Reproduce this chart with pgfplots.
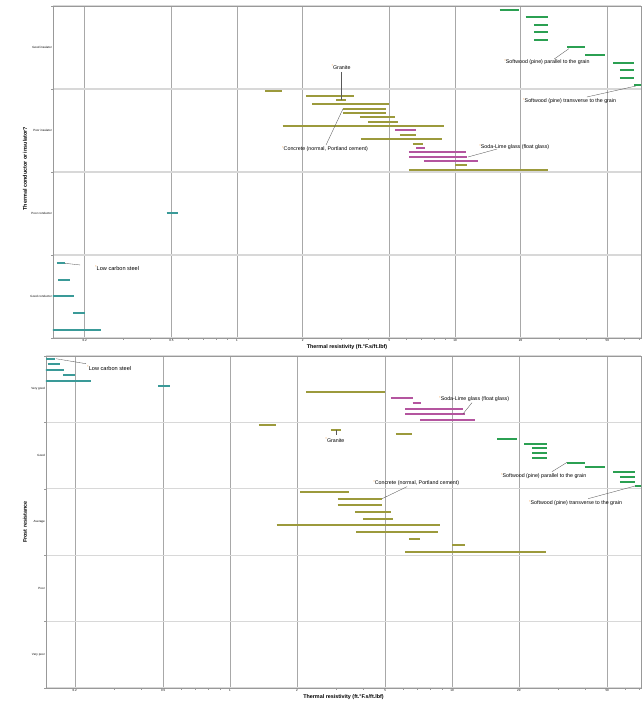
\documentclass[border=0pt]{standalone}
\usepackage{pgfplots}
\pgfplotsset{compat=1.18}
\usepackage{fontspec}
\setmainfont{Liberation Sans}
\definecolor{cteal}{HTML}{3A9A98}
\definecolor{colive}{HTML}{9C9A3C}
\definecolor{cpink}{HTML}{B4559F}
\definecolor{cgreen}{HTML}{2BA052}
\definecolor{corange}{HTML}{F5A04A}
\definecolor{cgrid}{HTML}{A8A8A8}
\definecolor{cband}{HTML}{D8D8D8}
\newcommand\tickfont{\fontsize{3}{3.5}\selectfont}
\newcommand\annfont{\fontsize{5.3}{6}\selectfont}
\newcommand\labfont{\fontsize{5.4}{6.4}\selectfont\bfseries}
\newcommand\orangemark{\raisebox{0.55ex}{\textcolor{corange}{\fontsize{4}{4}\selectfont*}}}
\tikzset{
  leader/.style={draw=gray!70!black, line width=0.35pt},
  annot/.style={font=\annfont, anchor=west, inner sep=0pt},
  hbar/.style={line width=2pt, line cap=butt},
}
\begin{document}
\begin{tikzpicture}
\path[use as bounding box] (0,0) rectangle (641pt,702pt);
% ---------------- top panel ----------------
\begin{axis}[
  scale only axis, xmode=log,
  at={(53pt,364pt)}, anchor=south west, width=588pt, height=332pt,
  xmin=0.1432, xmax=71.3, ymin=0, ymax=4,
  axis line style={draw=gray!80, line width=0.6pt},
  xtick={0.2,0.5,1,2,5,10,20,50},
  xticklabels={0.2,0.5,1,2,5,10,20,50},
  minor xtick={0.3,0.4,0.6,0.7,0.8,0.9,3,4,6,7,8,9,30,40,60,70},
  xtick pos=left, ytick pos=left, tick align=outside,
  major tick length=0pt, minor tick length=1.8pt,
  tick style={draw=gray!80, line width=0.4pt},
  xmajorgrids, yminorgrids,
  major grid style={draw=cgrid, line width=0.6pt},
  minor grid style={draw=cband, line width=1.3pt},
  xticklabel style={font=\tickfont, inner sep=1pt},
  yticklabel style={font=\tickfont, inner sep=1pt},
  ytick={0.5,1.5,2.5,3.5},
  yticklabels={Good conductor,Poor conductor,Poor insulator,Good insulator},
  minor ytick={0,1,2,3,4},
  xlabel={Thermal resistivity (ft.°F.s/ft.lbf)},
  ylabel={Thermal conductor or insulator?},
  xlabel style={font=\labfont, at={(axis description cs:0.5,-0.027)}, anchor=center},
  ylabel style={font=\labfont, at={(axis description cs:-0.0476,0.51)}, anchor=center},
]
% metals
\addplot[hbar, cteal] coordinates {(0.149,0.9) (0.163,0.9)};
\addplot[hbar, cteal] coordinates {(0.151,0.7) (0.171,0.7)};
\addplot[hbar, cteal] coordinates {(0.14,0.5) (0.178,0.5)};
\addplot[hbar, cteal] coordinates {(0.177,0.3) (0.201,0.3)};
\addplot[hbar, cteal] coordinates {(0.14,0.1) (0.237,0.1)};
\addplot[hbar, cteal] coordinates {(0.475,1.5) (0.537,1.5)};
% poor insulators
\addplot[hbar, colive] coordinates {(1.35,2.97368) (1.61,2.97368)};
\addplot[hbar, colive] coordinates {(2.07,2.92105) (3.45,2.92105)};
\addplot[hbar, colive] coordinates {(2.85,2.86842) (3.17,2.86842)};
\addplot[hbar, colive] coordinates {(2.21,2.81579) (5.0,2.81579)};
\addplot[hbar, colive] coordinates {(3.05,2.76316) (4.84,2.76316)};
\addplot[hbar, colive] coordinates {(3.05,2.71053) (4.84,2.71053)};
\addplot[hbar, colive] coordinates {(3.66,2.65789) (5.33,2.65789)};
\addplot[hbar, colive] coordinates {(3.98,2.60526) (5.45,2.60526)};
\addplot[hbar, colive] coordinates {(1.62,2.55263) (8.87,2.55263)};
\addplot[hbar, cpink] coordinates {(5.31,2.5) (6.65,2.5)};
\addplot[hbar, colive] coordinates {(5.59,2.44737) (6.61,2.44737)};
\addplot[hbar, colive] coordinates {(3.7,2.39474) (8.68,2.39474)};
\addplot[hbar, colive] coordinates {(6.41,2.34211) (7.15,2.34211)};
\addplot[hbar, cpink] coordinates {(6.64,2.28947) (7.27,2.28947)};
\addplot[hbar, cpink] coordinates {(6.15,2.23684) (11.2,2.23684)};
\addplot[hbar, cpink] coordinates {(6.15,2.18421) (11.4,2.18421)};
\addplot[hbar, cpink] coordinates {(7.2,2.13158) (12.75,2.13158)};
\addplot[hbar, colive] coordinates {(10.0,2.07895) (11.4,2.07895)};
\addplot[hbar, colive] coordinates {(6.15,2.02632) (26.6,2.02632)};
% good insulators
\addplot[hbar, cgreen] coordinates {(16.0,3.95455) (19.6,3.95455)};
\addplot[hbar, cgreen] coordinates {(21.1,3.86364) (26.8,3.86364)};
\addplot[hbar, cgreen] coordinates {(23.0,3.77273) (26.8,3.77273)};
\addplot[hbar, cgreen] coordinates {(23.0,3.68182) (26.8,3.68182)};
\addplot[hbar, cgreen] coordinates {(23.0,3.59091) (26.8,3.59091)};
\addplot[hbar, cgreen] coordinates {(32.8,3.5) (39.6,3.5)};
\addplot[hbar, cgreen] coordinates {(39.6,3.40909) (48.8,3.40909)};
\addplot[hbar, cgreen] coordinates {(53.3,3.31818) (66.5,3.31818)};
\addplot[hbar, cgreen] coordinates {(57.0,3.22727) (66.5,3.22727)};
\addplot[hbar, cgreen] coordinates {(57.0,3.13636) (66.5,3.13636)};
\addplot[hbar, cgreen] coordinates {(66.5,3.04545) (80,3.04545)};
% annotations
\draw[leader] (axis cs:0.1625,0.9) -- (axis cs:0.1905,0.88);
\node[annot, font=\fontsize{5.6}{6.4}\selectfont] at (axis cs:0.223,0.84) {\orangemark Low carbon steel};
\draw[leader] (axis cs:3.0,3.205) -- (axis cs:3.0,2.868);
\node[annot, anchor=center] at (axis cs:3.0,3.265) {\orangemark Granite};
\draw[leader] (axis cs:2.56,2.325) -- (axis cs:3.06,2.759);
\node[annot] at (axis cs:1.608,2.277) {\orangemark Concrete (normal, Portland cement)};
\draw[leader] (axis cs:11.47,2.181) -- (axis cs:15.6,2.277);
\node[annot] at (axis cs:12.9,2.301) {\orangemark Soda-Lime glass (float glass)};
\draw[leader] (axis cs:28.5,3.361) -- (axis cs:33.3,3.486);
\node[annot] at (axis cs:16.8,3.325) {\orangemark Softwood (pine) parallel to the grain};
\draw[leader] (axis cs:40.3,2.904) -- (axis cs:67.6,3.036);
\node[annot] at (axis cs:20.5,2.855) {\orangemark Softwood (pine) transverse to the grain};
\end{axis}
% ---------------- bottom panel ----------------
\begin{axis}[
  scale only axis, xmode=log,
  at={(46pt,14pt)}, anchor=south west, width=595pt, height=332pt,
  xmin=0.1483, xmax=71.0, ymin=0, ymax=5,
  axis line style={draw=gray!80, line width=0.6pt},
  xtick={0.2,0.5,1,2,5,10,20,50},
  xticklabels={0.2,0.5,1,2,5,10,20,50},
  minor xtick={0.3,0.4,0.6,0.7,0.8,0.9,3,4,6,7,8,9,30,40,60,70},
  xtick pos=left, ytick pos=left, tick align=outside,
  major tick length=0pt, minor tick length=1.8pt,
  tick style={draw=gray!80, line width=0.4pt},
  xmajorgrids, yminorgrids,
  major grid style={draw=cgrid, line width=0.6pt},
  minor grid style={draw=cband, line width=1.3pt},
  xticklabel style={font=\tickfont, inner sep=1pt},
  yticklabel style={font=\tickfont, inner sep=1pt},
  ytick={0.5,1.5,2.5,3.5,4.5},
  yticklabels={Very poor,Poor,Average,Good,Very good},
  minor ytick={0,1,2,3,4,5},
  xlabel={Thermal resistivity (ft.°F.s/ft.lbf)},
  ylabel={Frost resistance},
  xlabel style={font=\labfont, at={(axis description cs:0.5,-0.027)}, anchor=center},
  ylabel style={font=\labfont, at={(axis description cs:-0.0353,0.5)}, anchor=center},
]
% very good
\addplot[hbar, cteal] coordinates {(0.149,4.95833) (0.163,4.95833)};
\addplot[hbar, cteal] coordinates {(0.151,4.875) (0.171,4.875)};
\addplot[hbar, cteal] coordinates {(0.14,4.79167) (0.178,4.79167)};
\addplot[hbar, cteal] coordinates {(0.177,4.70833) (0.201,4.70833)};
\addplot[hbar, cteal] coordinates {(0.14,4.625) (0.237,4.625)};
\addplot[hbar, cteal] coordinates {(0.475,4.54167) (0.537,4.54167)};
\addplot[hbar, colive] coordinates {(2.21,4.45833) (5.0,4.45833)};
\addplot[hbar, cpink] coordinates {(5.31,4.375) (6.65,4.375)};
\addplot[hbar, cpink] coordinates {(6.64,4.29167) (7.27,4.29167)};
\addplot[hbar, cpink] coordinates {(6.15,4.20833) (11.2,4.20833)};
\addplot[hbar, cpink] coordinates {(6.15,4.125) (11.4,4.125)};
\addplot[hbar, cpink] coordinates {(7.2,4.04167) (12.75,4.04167)};
% good
\addplot[hbar, colive] coordinates {(1.35,3.96429) (1.61,3.96429)};
\addplot[hbar, colive] coordinates {(2.85,3.89286) (3.17,3.89286)};
\addplot[hbar, colive] coordinates {(5.59,3.82143) (6.61,3.82143)};
\addplot[hbar, cgreen] coordinates {(16.0,3.75) (19.6,3.75)};
\addplot[hbar, cgreen] coordinates {(21.1,3.67857) (26.8,3.67857)};
\addplot[hbar, cgreen] coordinates {(23.0,3.60714) (26.8,3.60714)};
\addplot[hbar, cgreen] coordinates {(23.0,3.53571) (26.8,3.53571)};
\addplot[hbar, cgreen] coordinates {(23.0,3.46429) (26.8,3.46429)};
\addplot[hbar, cgreen] coordinates {(32.8,3.39286) (39.6,3.39286)};
\addplot[hbar, cgreen] coordinates {(39.6,3.32143) (48.8,3.32143)};
\addplot[hbar, cgreen] coordinates {(53.3,3.25) (66.5,3.25)};
\addplot[hbar, cgreen] coordinates {(57.0,3.17857) (66.5,3.17857)};
\addplot[hbar, cgreen] coordinates {(57.0,3.10714) (66.5,3.10714)};
\addplot[hbar, cgreen] coordinates {(66.5,3.03571) (80,3.03571)};
% average
\addplot[hbar, colive] coordinates {(2.07,2.95) (3.45,2.95)};
\addplot[hbar, colive] coordinates {(3.05,2.85) (4.84,2.85)};
\addplot[hbar, colive] coordinates {(3.05,2.75) (4.84,2.75)};
\addplot[hbar, colive] coordinates {(3.66,2.65) (5.33,2.65)};
\addplot[hbar, colive] coordinates {(3.98,2.55) (5.45,2.55)};
\addplot[hbar, colive] coordinates {(1.62,2.45) (8.87,2.45)};
\addplot[hbar, colive] coordinates {(3.7,2.35) (8.68,2.35)};
\addplot[hbar, colive] coordinates {(6.41,2.25) (7.15,2.25)};
\addplot[hbar, colive] coordinates {(10.0,2.15) (11.4,2.15)};
\addplot[hbar, colive] coordinates {(6.15,2.05) (26.6,2.05)};
% annotations
\draw[leader] (axis cs:0.1645,4.959) -- (axis cs:0.2245,4.884);
\node[annot, font=\fontsize{5.6}{6.4}\selectfont] at (axis cs:0.227,4.815) {\orangemark Low carbon steel};
\draw[leader] (axis cs:11.2,4.127) -- (axis cs:12.3,4.297);
\node[annot] at (axis cs:8.74,4.348) {\orangemark Soda-Lime glass (float glass)};
\draw[leader] (axis cs:3.0,3.893) -- (axis cs:3.0,3.81);
\node[annot, anchor=center] at (axis cs:2.97,3.730) {\orangemark Granite};
\draw[leader] (axis cs:28.2,3.258) -- (axis cs:33.0,3.399);
\node[annot] at (axis cs:16.6,3.193) {\orangemark Softwood (pine) parallel to the grain};
\draw[leader] (axis cs:41.0,2.851) -- (axis cs:66.7,3.042);
\node[annot] at (axis cs:22.2,2.782) {\orangemark Softwood (pine) transverse to the grain};
\draw[leader] (axis cs:4.84,2.851) -- (axis cs:6.27,3.032);
\node[annot] at (axis cs:4.41,3.083) {\orangemark Concrete (normal, Portland cement)};
\end{axis}
\end{tikzpicture}
\end{document}
